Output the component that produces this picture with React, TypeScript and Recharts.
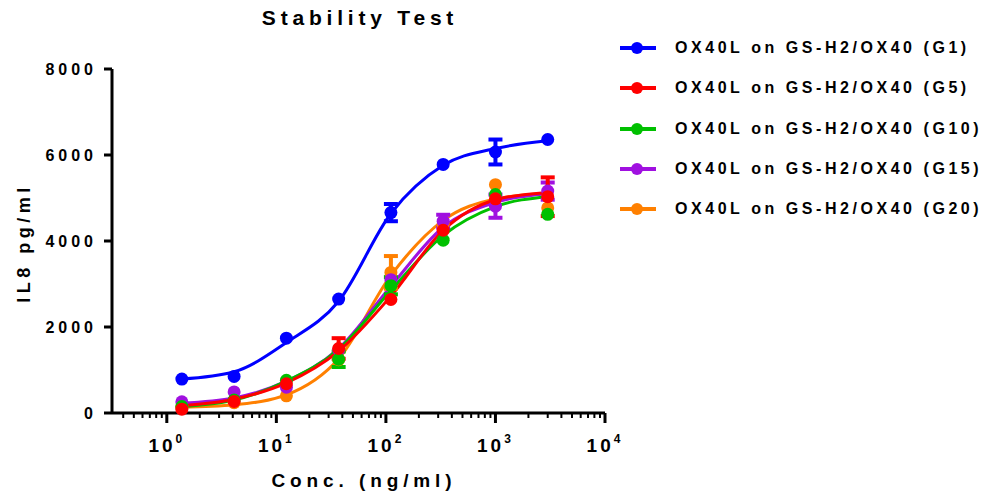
import React from 'react';
import { ComposedChart, Line, Scatter, ErrorBar, XAxis, YAxis } from 'recharts';

// concentrations (ng/ml), 3-fold dilution series
const conc = [1.372, 4.115, 12.35, 37.04, 111.1, 333.3, 1000, 3000];

const g1Vals = [790, 850, 1740, 2650, 4660, 5780, 6070, 6360];
const g1Errs = [0, 0, 0, 0, 200, 0, 290, 0];
const g5Vals = [90, 270, 680, 1500, 2640, 4250, 4980, 5030];
const g5Errs = [0, 0, 0, 240, 0, 0, 0, 450];
const g10Vals = [150, 300, 760, 1250, 2960, 4020, 5080, 4620];
const g10Errs = [0, 0, 0, 180, 200, 0, 0, 0];
const g15Vals = [260, 490, 600, 1470, 3100, 4460, 4810, 5160];
const g15Errs = [0, 0, 0, 0, 0, 150, 270, 200];
const g20Vals = [140, 240, 400, 1240, 3270, 4390, 5310, 4770];
const g20Errs = [0, 0, 0, 0, 380, 0, 0, 0];

// fitted curves, read at the same concentrations
const g1Fit = [790, 960, 1640, 2600, 4640, 5760, 6150, 6330];
const g5Fit = [170, 320, 700, 1440, 2720, 4250, 4960, 5130];
const g10Fit = [150, 300, 740, 1480, 2850, 4130, 4800, 5030];
const g15Fit = [230, 350, 740, 1500, 2950, 4320, 4900, 5100];
const g20Fit = [130, 190, 420, 1260, 3200, 4480, 4980, 5110];

const yTicks = [0, 2000, 4000, 6000, 8000];
const majorTicks = [1, 10, 100, 1000, 10000];
const minorTicks = [0.4, 0.5, 0.6, 0.7, 0.8, 0.9, ...[1, 10, 100, 1000].flatMap(d => [2, 3, 4, 5, 6, 7, 8, 9].map(m => m * d))];

const series = [
  { name: 'OX40L on GS-H2/OX40 (G1)', color: '#0000FF', vals: g1Vals, errs: g1Errs, fit: g1Fit },
  { name: 'OX40L on GS-H2/OX40 (G5)', color: '#FF0000', vals: g5Vals, errs: g5Errs, fit: g5Fit },
  { name: 'OX40L on GS-H2/OX40 (G10)', color: '#00C000', vals: g10Vals, errs: g10Errs, fit: g10Fit },
  { name: 'OX40L on GS-H2/OX40 (G15)', color: '#A010E0', vals: g15Vals, errs: g15Errs, fit: g15Fit },
  { name: 'OX40L on GS-H2/OX40 (G20)', color: '#FF8000', vals: g20Vals, errs: g20Errs, fit: g20Fit },
];

// drawing order: later ones end up on top
const drawOrder = [4, 3, 2, 1, 0];

const FONT = '"Liberation Sans", Arial, sans-serif';

const XTick = (props: any) => {
  const { x, y, payload } = props;
  const lg = Math.log10(payload.value);
  const p = Math.round(lg);
  const major = Math.abs(lg - p) < 1e-6;
  return (
    <g>
      <line x1={x} x2={x} y1={y} y2={y + (major ? 10 : 5)} stroke="#000" strokeWidth={major ? 3 : 2} />
      {major && (
        <text x={x} y={y + 39} textAnchor="middle" fontFamily={FONT} fontWeight="bold" fontSize={19} fill="#000" style={{ letterSpacing: 3 }}>
          10<tspan dy={-9} fontSize={12}>{p}</tspan>
        </text>
      )}
    </g>
  );
};

const YTick = (props: any) => {
  const { x, y, payload } = props;
  return (
    <text x={x + 1} y={y + 6} textAnchor="end" fontFamily={FONT} fontWeight="bold" fontSize={16} fill="#000" style={{ letterSpacing: 4 }}>
      {payload.value}
    </text>
  );
};

const dot = (color: string) => (p: any) => <circle cx={p.cx} cy={p.cy} r={6.5} fill={color} />;

const App: React.FC = () => {
  const textStyle: React.CSSProperties = { position: 'absolute', fontFamily: FONT, fontWeight: 'bold', color: '#000', whiteSpace: 'nowrap' };
  return (
    <div style={{ position: 'absolute', left: 0, top: 0, width: 995, height: 497, background: '#fff' }}>
      <ComposedChart width={995} height={497} margin={{ top: 69, right: 390, bottom: 34, left: 52 }}>
        <XAxis
          type="number"
          dataKey="conc"
          scale="log"
          domain={[0.316, 10000]}
          allowDataOverflow
          ticks={[...minorTicks, ...majorTicks]}
          interval={0}
          tick={<XTick />}
          tickLine={false}
          tickSize={0}
          tickMargin={0}
          height={50}
          axisLine={{ stroke: '#000', strokeWidth: 3 }}
        />
        <YAxis
          type="number"
          domain={[0, 8000]}
          ticks={yTicks}
          interval={0}
          width={60}
          tickSize={8}
          tickMargin={8}
          tick={<YTick />}
          tickLine={{ stroke: '#000', strokeWidth: 3 }}
          axisLine={{ stroke: '#000', strokeWidth: 3 }}
        />
        {drawOrder.map(i => {
          const s = series[i];
          return (
            <Line
              key={`fit-${i}`}
              data={conc.map((c, k) => ({ conc: c, fit: s.fit[k] }))}
              dataKey="fit"
              type="monotone"
              stroke={s.color}
              strokeWidth={3}
              dot={false}
              activeDot={false}
              isAnimationActive={false}
            />
          );
        })}
        {drawOrder.map(i => {
          const s = series[i];
          return (
            <Scatter
              key={`pts-${i}`}
              data={conc.map((c, k) => ({ conc: c, val: s.vals[k], err: s.errs[k] }))}
              dataKey="val"
              fill={s.color}
              shape={dot(s.color)}
              isAnimationActive={false}
            >
              <ErrorBar dataKey="err" direction="y" width={7} strokeWidth={4} stroke={s.color} isAnimationActive={false} />
            </Scatter>
          );
        })}
      </ComposedChart>

      <div style={{ ...textStyle, left: 0, width: 720, top: 6, textAlign: 'center', fontSize: 21, letterSpacing: 4.8 }}>Stability Test</div>
      <div style={{ ...textStyle, left: 0, width: 728, top: 470, textAlign: 'center', fontSize: 19, letterSpacing: 4.9 }}>Conc. (ng/ml)</div>
      <div
        style={{
          ...textStyle,
          left: 24,
          top: 243,
          fontSize: 18,
          letterSpacing: 4.5,
          transform: 'translate(-50%, -50%) rotate(-90deg)',
        }}
      >
        IL8 pg/ml
      </div>

      {series.map((s, i) => (
        <div key={s.name} style={{ position: 'absolute', left: 618, top: 48 + i * 40.3 - 10, height: 20, display: 'flex', alignItems: 'center' }}>
          <svg width={40} height={20}>
            <line x1={2} x2={38} y1={10} y2={10} stroke={s.color} strokeWidth={4} />
            <circle cx={19} cy={10} r={6} fill={s.color} />
          </svg>
          <span style={{ marginLeft: 17, fontFamily: FONT, fontWeight: 'bold', fontSize: 16, letterSpacing: 3.55, color: '#000', whiteSpace: 'nowrap' }}>
            {s.name}
          </span>
        </div>
      ))}
    </div>
  );
};

export default App;
